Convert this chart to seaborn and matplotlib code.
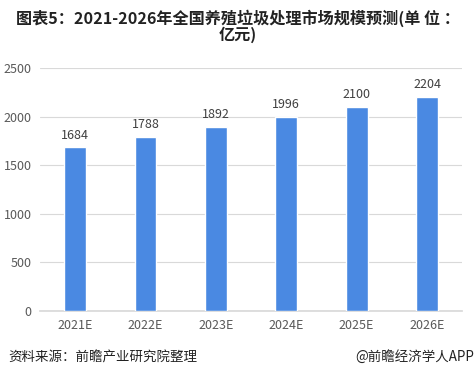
import matplotlib
matplotlib.use('Agg')
import matplotlib.pyplot as plt
import seaborn as sns
import pandas as pd

# 数据
years = ['2021E', '2022E', '2023E', '2024E', '2025E', '2026E']
values = [1684, 1788, 1892, 1996, 2100, 2204]
y_ticks = [0, 500, 1000, 1500, 2000, 2500]

title = '图表5：2021-2026年全国养殖垃圾处理市场规模预测(单 位 ：\n亿元)'
source = '资料来源：前瞻产业研究院整理'
brand = '@前瞻经济学人APP'

sns.set_theme(style='white')
plt.rcParams['font.family'] = ['Noto Sans CJK SC', 'DejaVu Sans']

df = pd.DataFrame({'year': years, 'value': values})

fig = plt.figure(figsize=(4.76, 3.78), dpi=100)
ax = fig.add_axes([0.084, 0.177, 0.887, 0.643])

sns.barplot(data=df, x='year', y='value', color='#4A89E2', width=0.31,
            saturation=1, ax=ax, zorder=3)

ax.set_ylim(0, 2500)
ax.set_yticks(y_ticks)
ax.yaxis.grid(True, color='#d9d9d9', linewidth=0.8, zorder=0)
ax.set_axisbelow(True)
for s in ['top', 'right', 'left']:
    ax.spines[s].set_visible(False)
ax.spines['bottom'].set_color('#d9d9d9')
ax.set_xlabel('')
ax.set_ylabel('')
ax.tick_params(axis='both', length=0, labelsize=9, colors='#595959', pad=6)

for i, v in enumerate(values):
    ax.text(i, v + 60, str(v), ha='center', va='bottom', fontsize=9, color='#404040')

fig.text(0.5, 0.975, title, ha='center', va='top', fontsize=11.6, fontweight='bold',
         color='#222222', linespacing=1.0)
fig.text(0.017, 0.055, source, ha='left', va='center', fontsize=9.7, color='#222222')
fig.text(0.997, 0.055, brand, ha='right', va='center', fontsize=9.7, color='#222222')

fig.savefig('out.png', dpi=100)
